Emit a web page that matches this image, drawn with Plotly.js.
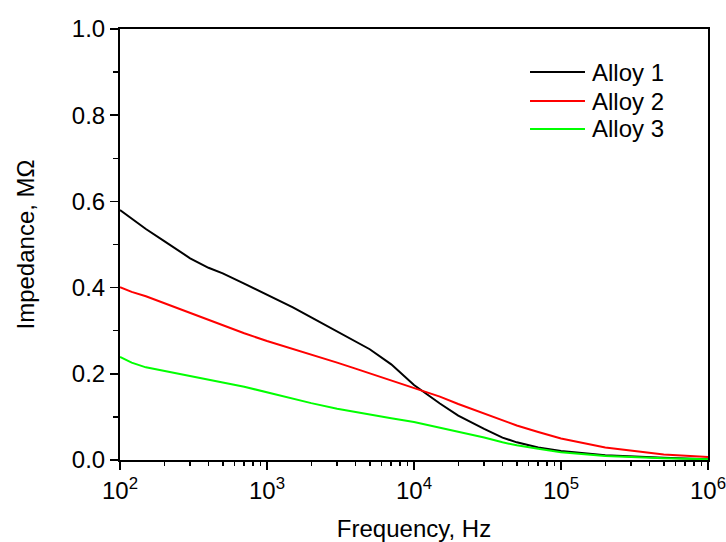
<!DOCTYPE html>
<html>
<head>
<meta charset="utf-8">
<script src="https://cdn.plot.ly/plotly-3.0.1.min.js"></script>
<style>html,body{margin:0;padding:0;background:#fff;}</style>
</head>
<body>
<div id="chart" style="width:726px;height:542px;"></div>
<script>
// Frequency grid (Hz)
var frequency = [100, 120, 150, 200, 300, 400, 500, 700, 1000, 1500, 2000, 3000, 4000, 5000, 7000,
  10000, 15000, 20000, 30000, 40000, 50000, 70000, 100000, 200000, 500000, 1000000];
// Impedance (MOhm)
var alloy1 = [0.580, 0.560, 0.536, 0.508, 0.468, 0.446, 0.433, 0.409, 0.384, 0.354, 0.331, 0.298, 0.276, 0.257, 0.222,
  0.174, 0.131, 0.103, 0.072, 0.052, 0.041, 0.029, 0.021, 0.011, 0.005, 0.002];
var alloy2 = [0.401, 0.390, 0.380, 0.364, 0.342, 0.325, 0.312, 0.294, 0.276, 0.258, 0.245, 0.226, 0.212, 0.201, 0.185,
  0.168, 0.147, 0.130, 0.108, 0.093, 0.080, 0.065, 0.050, 0.029, 0.013, 0.007];
var alloy3 = [0.239, 0.226, 0.215, 0.207, 0.195, 0.187, 0.180, 0.170, 0.157, 0.143, 0.132, 0.119, 0.111, 0.105, 0.097,
  0.088, 0.075, 0.065, 0.052, 0.041, 0.034, 0.026, 0.018, 0.009, 0.004, 0.002];
var xTickVals = [100, 1000, 10000, 100000, 1000000];
var xTickText = ["10<sup>2</sup>", "10<sup>3</sup>", "10<sup>4</sup>", "10<sup>5</sup>", "10<sup>6</sup>"];
var seriesNames = ["Alloy 1", "Alloy 2", "Alloy 3"];
var seriesColors = ["#000000", "#ff0000", "#00ff00"];
var xTitle = "Frequency, Hz";
var yTitle = "Impedance, MΩ";

var ys = [alloy1, alloy2, alloy3];
var traces = ys.map(function (y, i) {
  return {x: frequency, y: y, type: "scatter", mode: "lines", name: seriesNames[i],
    line: {color: seriesColors[i], width: 2}, showlegend: false};
});

var font = {family: "Arial, 'Liberation Sans', sans-serif", size: 24, color: "#000"};

// legend built manually
var shapes = [], annotations = [];
var legY = [0.9002, 0.8329, 0.768];
seriesNames.forEach(function (n, i) {
  shapes.push({type: "line", xref: "paper", yref: "paper", x0: 0.6973, x1: 0.7908, y0: legY[i], y1: legY[i],
    line: {color: seriesColors[i], width: 2}});
  annotations.push({xref: "paper", yref: "paper", x: 0.800, y: legY[i], xanchor: "left", yanchor: "middle",
    text: n, showarrow: false, font: font});
});

var layout = {
  width: 726, height: 542,
  margin: {l: 120, r: 18, t: 29, b: 82},
  paper_bgcolor: "#fff", plot_bgcolor: "#fff",
  font: font,
  showlegend: false,
  xaxis: {
    type: "log", range: [1.99999, 6.00001], tickvals: xTickVals, ticktext: xTickText,
    ticklabeloverflow: "allow",
    showgrid: false, zeroline: false,
    showline: true, linecolor: "#000", linewidth: 2, mirror: true,
    ticks: "outside", ticklen: 8, tickwidth: 1.5, tickcolor: "#000",
    minor: {dtick: "D1", ticks: "outside", ticklen: 4, tickwidth: 1.5, tickcolor: "#000", showgrid: false},
    tickfont: font,
    title: {text: xTitle, font: font, standoff: 20}
  },
  yaxis: {
    range: [0, 1], dtick: 0.2, tickformat: ".1f",
    showgrid: false, zeroline: false,
    showline: true, linecolor: "#000", linewidth: 2, mirror: true,
    ticks: "outside", ticklen: 8, tickwidth: 1.5, tickcolor: "#000",
    minor: {dtick: 0.1, ticks: "outside", ticklen: 5, tickwidth: 1.5, tickcolor: "#000", showgrid: false},
    tickfont: font,
    title: {text: yTitle, font: font, standoff: 30}
  },
  shapes: shapes,
  annotations: annotations
};

Plotly.newPlot("chart", traces, layout, {staticPlot: true, displayModeBar: false});
</script>
</body>
</html>
